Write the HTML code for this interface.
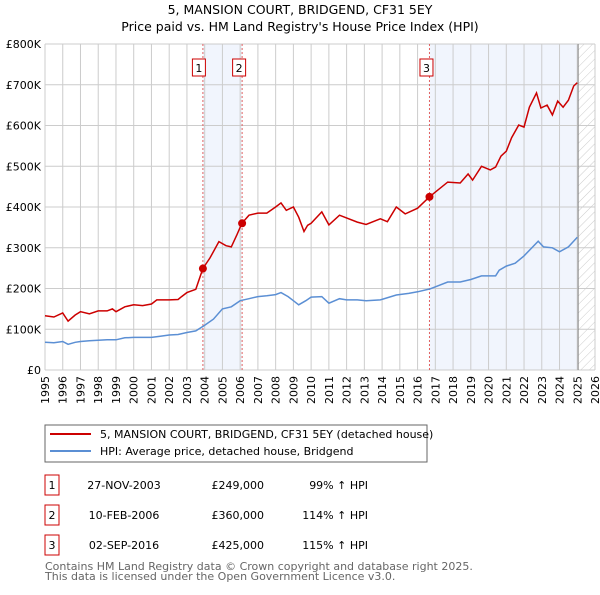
<!DOCTYPE html>
<html><head><meta charset="utf-8"><style>
body{margin:0;background:#fff;font-family:"Liberation Sans","DejaVu Sans",sans-serif;}
svg text{font-family:"DejaVu Sans","Liberation Sans",sans-serif;}
</style></head><body>
<svg id="c" width="600" height="590" xmlns="http://www.w3.org/2000/svg">
<defs><pattern id="hatch" width="6" height="6" patternUnits="userSpaceOnUse" patternTransform="rotate(45)"><line x1="0" y1="0" x2="0" y2="6" stroke="#ccc" stroke-width="1"/></pattern></defs>
<text x="300" y="14" text-anchor="middle" font-size="12.5">5, MANSION COURT, BRIDGEND, CF31 5EY</text>
<text x="300" y="31" text-anchor="middle" font-size="12.5">Price paid vs. HM Land Registry's House Price Index (HPI)</text>
<g id="plot"></g>
<rect x="45" y="425" width="382" height="37" fill="#fff" stroke="#666"/>
<line x1="50" y1="434" x2="91" y2="434" stroke="#cc0000" stroke-width="2"/>
<text x="100" y="438" font-size="11">5, MANSION COURT, BRIDGEND, CF31 5EY (detached house)</text>
<line x1="50" y1="451" x2="91" y2="451" stroke="#5b8fd4" stroke-width="2"/>
<text x="100" y="455" font-size="11">HPI: Average price, detached house, Bridgend</text>
<g id="tbl"></g>
<text x="45" y="570" font-size="11" fill="#666">Contains HM Land Registry data © Crown copyright and database right 2025.</text>
<text x="45" y="580" font-size="11" fill="#666">This data is licensed under the Open Government Licence v3.0.</text>
</svg>
<script>
const hpiT=[1995,1995.5,1996,1996.3,1996.7,1997,1997.5,1998,1998.5,1999,1999.5,2000,2000.5,2001,2001.5,2002,2002.5,2003,2003.5,2004,2004.5,2005,2005.5,2006,2006.5,2007,2007.5,2008,2008.3,2008.7,2009,2009.3,2009.7,2010,2010.6,2011,2011.6,2012,2012.6,2013.1,2013.9,2014.8,2015.5,2016,2016.7,2017.7,2018.4,2019,2019.6,2020.4,2020.6,2021,2021.5,2022,2022.8,2023.1,2023.6,2024,2024.5,2025];
const hpiV=[68,67,70,63,68,70,72,73,74,74,79,80,80,80,83,86,87,92,96,110,125,150,155,170,175,180,182,185,190,180,170,160,170,179,180,164,175,172,172,170,172,184,188,192,199,216,216,222,231,231,245,255,262,280,316,302,300,290,302,326];
const prT=[1995,1995.5,1996,1996.3,1996.7,1997,1997.5,1998,1998.5,1998.8,1999,1999.5,2000,2000.5,2001,2001.3,2002,2002.5,2002.7,2003,2003.5,2003.9,2004.3,2004.8,2005.2,2005.5,2005.8,2006.1,2006.5,2007,2007.5,2008,2008.3,2008.6,2009,2009.3,2009.6,2009.8,2010,2010.6,2011,2011.6,2012.6,2013.1,2013.9,2014.3,2014.8,2015.3,2016,2016.67,2017.7,2018.4,2018.85,2019.1,2019.6,2020.1,2020.4,2020.7,2021,2021.3,2021.7,2022,2022.3,2022.7,2022.95,2023.3,2023.6,2023.9,2024.2,2024.5,2024.8,2025];
const prV=[133,130,140,120,135,143,138,145,145,150,143,155,160,158,162,172,172,173,180,190,198,249,275,315,305,302,330,360,380,385,385,400,410,392,400,375,340,355,360,388,356,380,363,357,371,364,400,383,397,425,461,459,481,466,500,491,498,525,537,570,601,596,645,680,643,650,626,660,645,662,697,705];
const yTicks=[0,100,200,300,400,500,600,700,800];
const yLabels=["£0","£100K","£200K","£300K","£400K","£500K","£600K","£700K","£800K"];
const years=[];for(let y=1995;y<=2026;y++)years.push(y);
const saleT=[2003.9,2006.11,2016.67];
const saleV=[249,360,425];
const saleLbl=["1","2","3"];
const saleDate=["27-NOV-2003","10-FEB-2006","02-SEP-2016"];
const salePrice=["£249,000","£360,000","£425,000"];
const salePct=["99% ↑ HPI","114% ↑ HPI","115% ↑ HPI"];
const X=t=>45+(t-1995)*(550/31);
const Y=v=>370-v*(326/800);
const NS="http://www.w3.org/2000/svg";
const g=document.getElementById('plot');
function mk(tag,at,par){const e=document.createElementNS(NS,tag);for(const k in at)e.setAttribute(k,at[k]);(par||g).appendChild(e);return e;}
mk('rect',{x:X(1995),y:Y(800),width:X(2026)-X(1995),height:Y(0)-Y(800),fill:'#fff'});
let r=mk('rect',{x:X(saleT[0]),y:Y(800),width:X(saleT[1])-X(saleT[0]),height:Y(0)-Y(800),fill:'#eef3fc',opacity:0.8});


r=mk('rect',{x:X(saleT[2]),y:Y(800),width:X(2025.05)-X(saleT[2]),height:Y(0)-Y(800),fill:'#eef3fc',opacity:0.8});


r=mk('rect',{x:X(2025.05),y:Y(800),width:X(2026)-X(2025.05),height:Y(0)-Y(800),fill:'url(#hatch)'});


years.forEach(y=>{mk('line',{x1:X(y),x2:X(y),y1:Y(0),y2:Y(800),stroke:'#ccc','stroke-width':1});
 const t=mk('text',{x:0,y:0,'font-size':11,'text-anchor':'end',transform:`translate(${X(y)+4},${Y(0)+6}) rotate(-90)`});t.textContent=y;
 
 });
yTicks.forEach((v,i)=>{mk('line',{x1:X(1995),x2:X(2026),y1:Y(v),y2:Y(v),stroke:'#ccc','stroke-width':1});
 const t=mk('text',{x:41,y:Y(v)+4,'font-size':11,'text-anchor':'end'});t.textContent=yLabels[i];
 
 });
mk('line',{x1:X(2025.05),x2:X(2025.05),y1:Y(0),y2:Y(800),stroke:'#888','stroke-width':1});
const boxOff=[-4,-3,-3];
saleT.forEach((t,i)=>{const l=mk('line',{x1:X(t),x2:X(t),y1:Y(0),y2:Y(800),stroke:'#e06060','stroke-width':1,'stroke-dasharray':'2,2'});
 
 
 const bx=X(t)+boxOff[i];
 const b=mk('rect',{x:bx-6.5,y:59,width:13,height:17,fill:'#fff',stroke:'#cc0000'});
 
 
 const tx=mk('text',{x:bx,y:72,'font-size':11,'text-anchor':'middle'});tx.textContent=saleLbl[i];});
const pts=(T,V)=>T.map((t,i)=>X(t).toFixed(1)+','+Y(V[i]).toFixed(1)).join(' ');
let p=mk('polyline',{points:pts(hpiT,hpiV),fill:'none',stroke:'#5b8fd4','stroke-width':1.5});


p=mk('polyline',{points:pts(prT,prV),fill:'none',stroke:'#cc0000','stroke-width':1.5});


saleT.forEach((t,i)=>{const c=mk('circle',{cx:X(t),cy:Y(saleV[i]),r:4,fill:'#cc0000'});
 
 });
const tb=document.getElementById('tbl');
saleT.forEach((t,i)=>{const y=487+i*30;
 const b=mk('rect',{x:45,y:y-12,width:14,height:20,fill:'#fff',stroke:'#cc0000'},tb);
 
 
 let e=mk('text',{x:52,y:y+2,'font-size':11,'text-anchor':'middle'},tb);e.textContent=saleLbl[i];
 e=mk('text',{x:124,y:y+2,'font-size':11,'text-anchor':'middle'},tb);e.textContent=saleDate[i];
 
 
 e=mk('text',{x:264,y:y+2,'font-size':11,'text-anchor':'end'},tb);e.textContent=salePrice[i];
 
 
 e=mk('text',{x:368,y:y+2,'font-size':11,'text-anchor':'end'},tb);e.textContent=salePct[i];
 
 });
</script>
</body></html>
